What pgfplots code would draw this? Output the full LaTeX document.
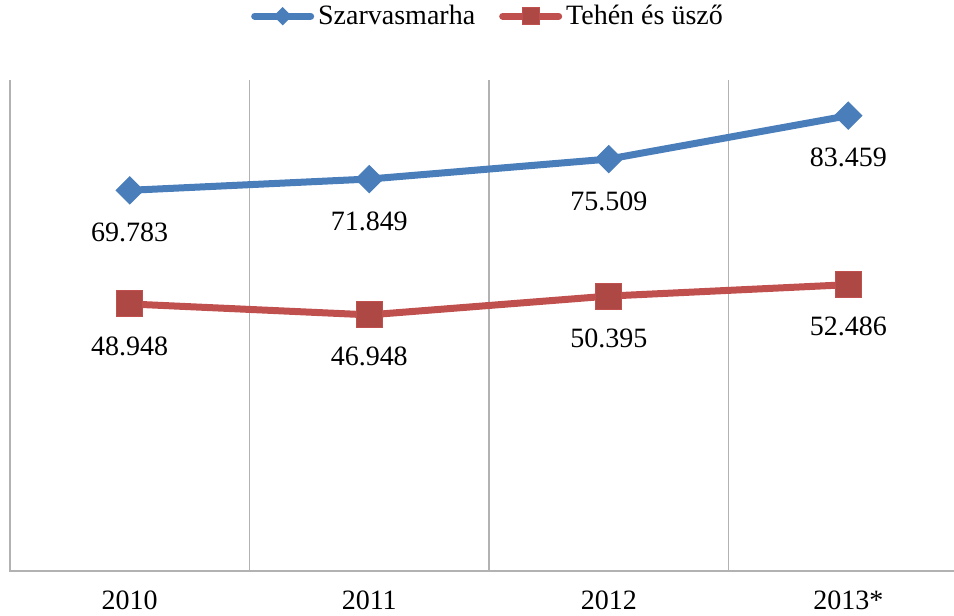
\documentclass[border=0pt]{standalone}
\usepackage{pgfplots}
\pgfplotsset{compat=1.18}
\usepackage{fontspec}
\setmainfont{Liberation Serif}
\definecolor{xlblue}{HTML}{4A7EBB}
\definecolor{xlred}{HTML}{C0504D}
\begin{document}
\begin{tikzpicture}
\begin{axis}[
  scale only axis,
  width=479pt, height=245.5pt,
  at={(0,0)}, anchor=south west,
  xmin=-0.5, xmax=3.5,
  ymin=0, ymax=90,
  axis line style={draw=none},
  ytick=\empty,
  xtick={0,1,2,3},
  xticklabels={2010,2011,2012,2013*},
  major tick length=0pt,
  xticklabel style={yshift=-6.5pt},
  extra x ticks={0.5,1.5,2.5},
  extra x tick labels={},
  extra x tick style={grid=major, major grid style={gray!60, line width=0.6pt}},
  tick label style={font=\fontsize{14}{16}\selectfont},
  /pgf/number format/assume math mode=true,
  clip=false,
  legend columns=2,
  legend style={draw=none, fill=none, at={(0.5,1.13)}, anchor=center,
    font=\fontsize{14}{16}\selectfont, /tikz/every even column/.append style={column sep=10pt}},
  legend image code/.code={
    \draw[#1, line cap=round, mark repeat=2, mark phase=2] plot coordinates {(0pt,0pt) (14pt,0pt) (28pt,0pt)};
  },
  nodes near coords,
  point meta=explicit symbolic,
  every node near coord/.append style={anchor=center, yshift=-21pt, font=\fontsize{14}{16}\selectfont, text=black},
]
% frame: left edge and bottom line
\draw[gray!60, line width=0.6pt] (axis cs:-0.5,90) -- (axis cs:-0.5,0) -- (axis cs:3.5,0);

\addplot[xlblue, line width=3.5pt, mark=square*, mark size=4.8pt,
  mark options={rotate=45, fill=xlblue, draw=xlblue, line width=0.5pt},
  legend image post style={mark size=3pt}]
  coordinates {(0,69.783) [69.783] (1,71.849) [71.849] (2,75.509) [75.509] (3,83.459) [83.459]};
\addlegendentry{Szarvasmarha}

\addplot[xlred, line width=3.5pt, mark=square*, mark size=6.5pt,
  mark options={fill=xlred!90!black, draw=xlred, line width=0.5pt},
  legend image post style={mark size=4.3pt}]
  coordinates {(0,48.948) [48.948] (1,46.948) [46.948] (2,50.395) [50.395] (3,52.486) [52.486]};
\addlegendentry{Tehén és üsző}
\end{axis}
\pgfresetboundingbox
\useasboundingbox (-5pt,-22.5pt) rectangle (472pt,285.5pt);
\end{tikzpicture}
\end{document}
